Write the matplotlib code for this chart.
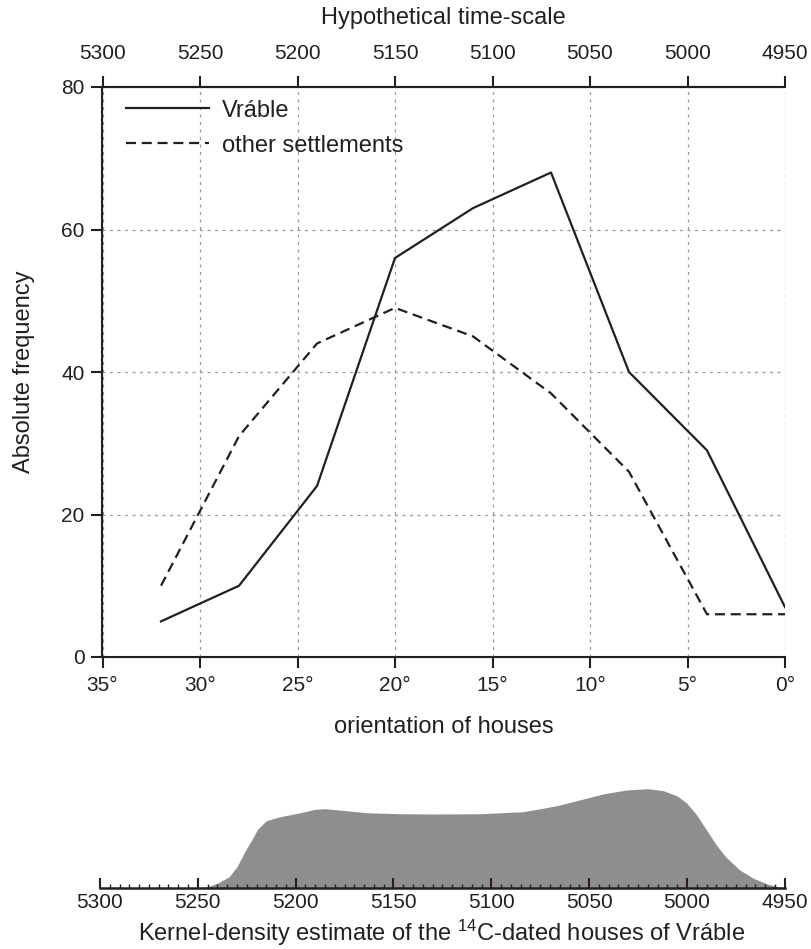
import matplotlib
matplotlib.use("Agg")
import matplotlib.pyplot as plt
from matplotlib.ticker import MultipleLocator

plt.rcParams['font.family'] = ['Liberation Sans', 'DejaVu Sans']
plt.rcParams['mathtext.default'] = 'regular'
plt.rcParams['text.color'] = '#231f20'
plt.rcParams['axes.edgecolor'] = '#231f20'
plt.rcParams['xtick.color'] = '#231f20'
plt.rcParams['ytick.color'] = '#231f20'

# orientation of houses (degrees) and absolute frequency
orientation = [32, 28, 24, 20, 16, 12, 8, 4, 0]
vrable = [5, 10, 24, 56, 63, 68, 40, 29, 7]
other = [10, 31, 44, 49, 45, 37, 26, 6, 6]

deg_ticks = [35, 30, 25, 20, 15, 10, 5, 0]
freq_ticks = [0, 20, 40, 60, 80]
year_ticks = [5300, 5250, 5200, 5150, 5100, 5050, 5000, 4950]

# kernel-density estimate of 14C-dated houses (arbitrary units)
kde_years = [5250, 5245, 5240, 5234, 5230, 5226, 5222, 5219.5, 5215, 5208, 5199,
             5190, 5185, 5174, 5164, 5148, 5131, 5106, 5084, 5075, 5065, 5055,
             5043, 5031, 5020, 5012, 5005, 5000, 4995, 4990, 4985, 4980, 4973,
             4966, 4959, 4952, 4950]
kde_density = [0.5, 1.6, 5, 11.6, 21.6, 36.6, 50, 59, 67.6, 71.6, 75,
               79, 79.6, 77.6, 75.6, 74.6, 74.3, 74.5, 76.6, 79.5, 83.3, 88.3,
               94.3, 98.3, 99.6, 97.6, 92.3, 85, 73.3, 58.3, 43.3, 31, 18.3,
               10, 4.3, 1, 0.5]

W, H = 812, 949
FS = 15     # tick labels
LFS = 17    # axis labels, legend
INK = '#231f20'


def px(l, t, r, b):
    return [l / W, 1 - b / H, (r - l) / W, (b - t) / H]


fig = plt.figure(figsize=(W / 100, H / 100), dpi=100)

ax = fig.add_axes(px(102.5, 87, 785, 657))
ax.plot(orientation, vrable, color=INK, lw=1.6, label='Vráble')
ax.plot(orientation, other, color=INK, lw=1.6, dashes=(4.5, 2.6), label='other settlements')
ax.set_xlim(35, 0)
ax.set_ylim(0, 80)
ax.set_xticks(deg_ticks)
ax.set_xticklabels([f'{d}°' for d in deg_ticks])
ax.set_yticks(freq_ticks)
ax.grid(True, color='#9a9a9a', lw=0.9, linestyle=(0, (2.4, 3.6)))
ax.set_axisbelow(True)
ax.spines['right'].set_visible(False)
for s in ['left', 'bottom', 'top']:
    ax.spines[s].set_linewidth(1.5)
ax.tick_params(axis='x', labelsize=FS, width=1.5, length=8, pad=5.5)
ax.tick_params(axis='y', labelsize=FS, width=1.5, length=8, pad=4.8)

ax.legend(loc='upper left', bbox_to_anchor=(0.035, 0.978), frameon=False,
          fontsize=LFS, handlelength=3.5, handletextpad=0.55, labelspacing=0.55,
          borderpad=0, borderaxespad=0)

top = ax.twiny()
top.set_xlim(5300, 4950)
top.set_xticks(year_ticks)
top.spines['right'].set_visible(False)
top.spines['top'].set_linewidth(1.5)
top.tick_params(labelsize=FS, width=1.5, length=8, pad=9)

fig.text(443.5 / W, 1 - 18 / H, 'Hypothetical time-scale', ha='center', va='center', fontsize=LFS)
fig.text(24 / W, 1 - 372 / H, 'Absolute frequency', ha='center', va='center',
         rotation=90, fontsize=LFS)
fig.text(443.5 / W, 1 - 727 / H, 'orientation of houses', ha='center', va='center', fontsize=LFS)

# kernel-density panel
kde = fig.add_axes(px(100, 778.3, 784.8, 888.3))
kde.fill_between(kde_years, kde_density, color='#8f8d8e', lw=0)
kde.set_xlim(5300, 4950)
kde.set_ylim(0, 110)
kde.set_xticks(year_ticks)
kde.xaxis.set_minor_locator(MultipleLocator(5))
kde.tick_params(axis='x', which='major', direction='in', length=7.2, width=1.5,
                labelsize=FS, pad=3.5)
kde.tick_params(axis='x', which='minor', direction='in', length=2.9, width=1.0)
kde.set_yticks([])
for s in ['left', 'right', 'top']:
    kde.spines[s].set_visible(False)
kde.spines['bottom'].set_linewidth(1.8)
kde.patch.set_alpha(0)

fig.text(442 / W, 1 - 933 / H, 'Kernel-density estimate of the $^{14}$C-dated houses of Vráble',
         ha='center', va='center', fontsize=LFS)

fig.savefig('out.png', dpi=100)
